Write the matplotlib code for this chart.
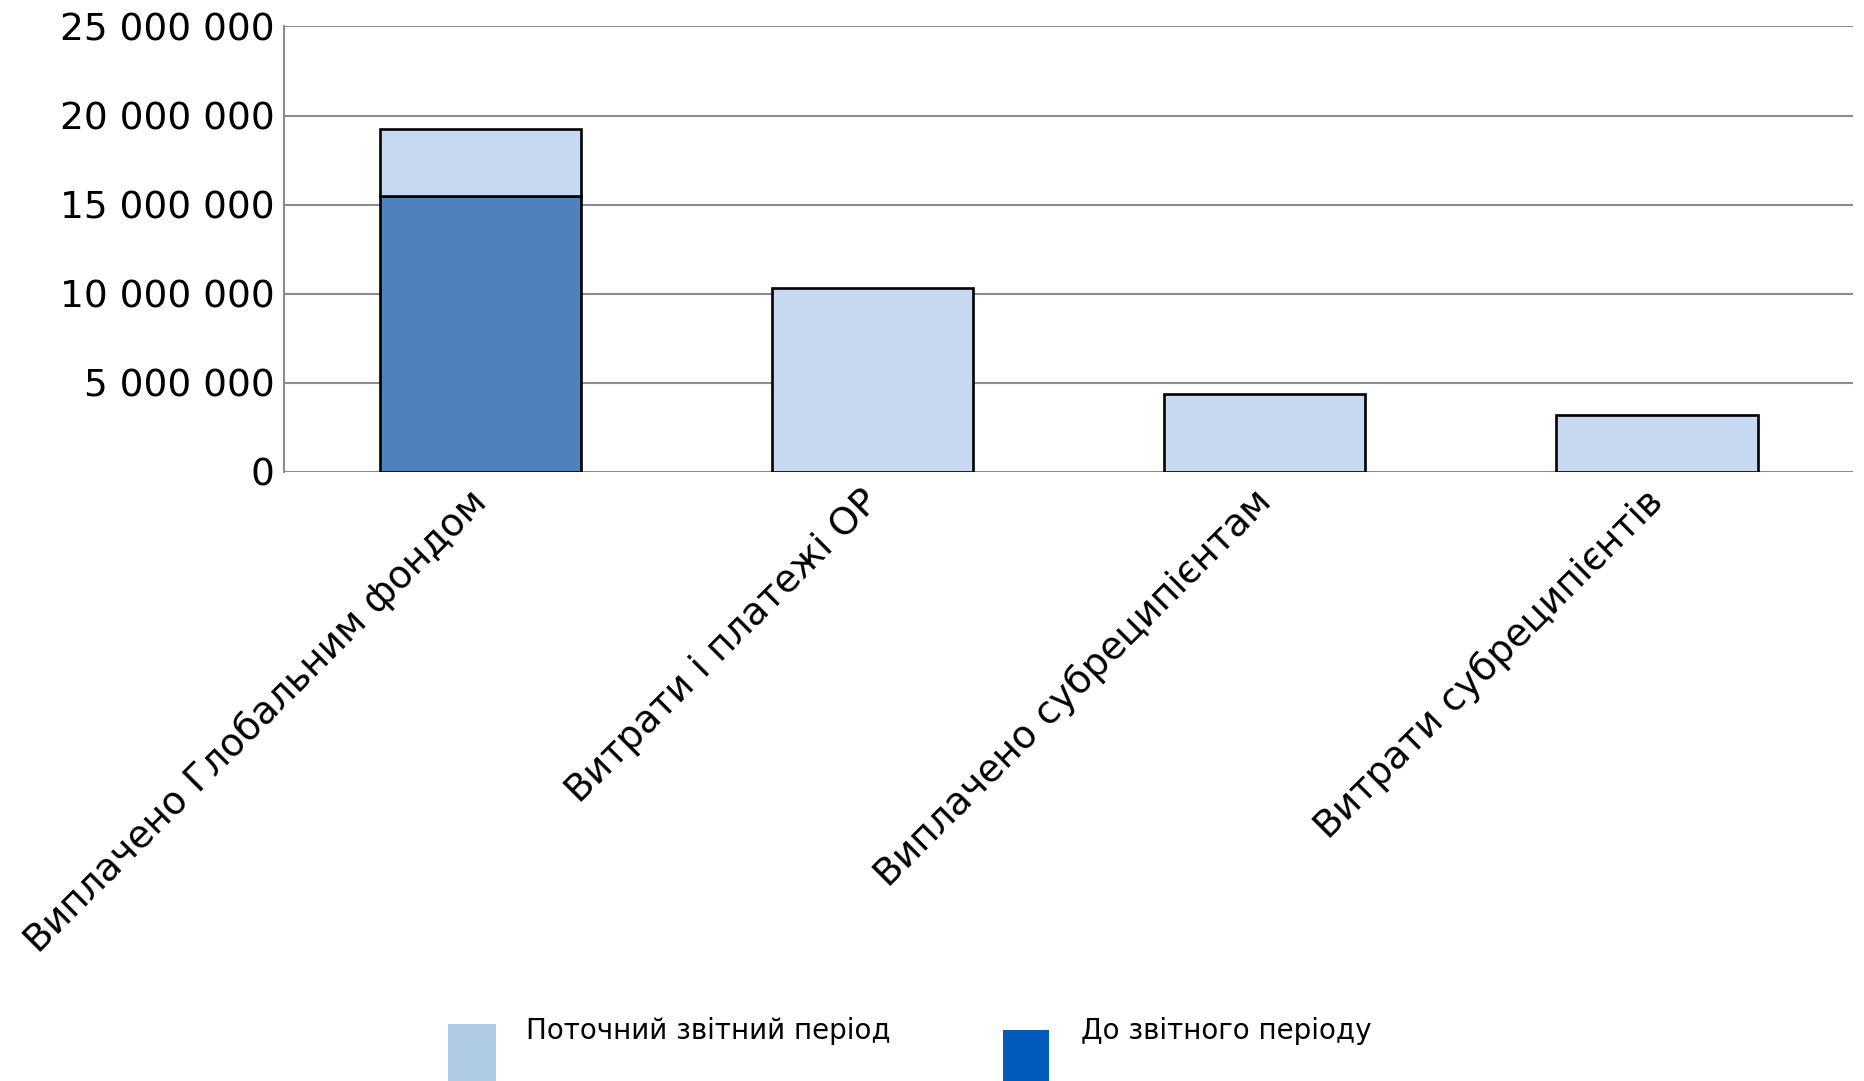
import matplotlib
matplotlib.use("Agg")
import matplotlib.pyplot as plt
from matplotlib.patches import Rectangle
from matplotlib.ticker import FuncFormatter, MultipleLocator
from matplotlib.transforms import ScaledTranslation

# Budget categories and amounts (UAH)
categories = [
    "Виплачено Глобальним фондом",
    "Витрати і платежі ОР",
    "Виплачено субреципієнтам",
    "Витрати субреципієнтів",
]
before_period = [15_490_000, 0, 0, 0]
current_period = [3_740_000, 10_320_000, 4_370_000, 3_200_000]

legend_labels = ["Поточний звітний період", "До звітного періоду"]

light_fill = "#C6D9F0"
dark_fill = "#4F81BD"
legend_light = "#B0CBE5"
legend_dark = "#005BBB"
grid_grey = "#8C8C8C"

plt.rcParams["font.family"] = ["DejaVu Sans"]

fig = plt.figure(figsize=(18.65, 10.81), dpi=100)
ax = fig.add_axes([0.1525, 0.5634, 0.8411, 0.4121])

x = list(range(len(categories)))
width = 0.513
ax.bar(x, before_period, width=width, color=dark_fill, edgecolor="black",
       linewidth=1.9, zorder=3)
ax.bar(x, current_period, width=width, bottom=before_period, color=light_fill,
       edgecolor="black", linewidth=1.9, zorder=3)

ax.set_xlim(-0.5, len(categories) - 0.5)
ax.set_ylim(0, 25_000_000)
ax.yaxis.set_major_locator(MultipleLocator(5_000_000))
ax.yaxis.set_major_formatter(FuncFormatter(lambda v, p: f"{v:,.0f}".replace(",", " ")))
ax.grid(axis="y", color=grid_grey, linewidth=1.5, zorder=0)
ax.set_axisbelow(True)

for side in ("top", "right", "bottom"):
    ax.spines[side].set_visible(False)
ax.spines["left"].set_color(grid_grey)
ax.spines["left"].set_linewidth(1.5)

ax.tick_params(axis="y", length=0, pad=7, labelsize=27)
ax.tick_params(axis="x", length=0, pad=8, labelsize=27.2)
ax.set_xticks(x)
ax.set_xticklabels(categories, rotation=45, ha="right")
shift = ScaledTranslation(10 / 72, 0, fig.dpi_scale_trans)
for lbl in ax.get_xticklabels():
    lbl.set_transform(lbl.get_transform() + shift)

# Legend swatches along the lower edge of the figure
W, H = 1865, 1081
swatches = [
    (448, 1024, 48, legend_light, 526),
    (1003, 1030, 46, legend_dark, 1081),
]
for (sx, sy, sw, col, tx), label in zip(swatches, legend_labels):
    fig.add_artist(Rectangle((sx / W, 0), sw / W, (H - sy) / H,
                             transform=fig.transFigure, color=col, lw=0))
    fig.text(tx / W, 1 - 1031 / H, label, fontsize=20, va="center", ha="left")

fig.savefig("out.png", dpi=100, facecolor="white")
